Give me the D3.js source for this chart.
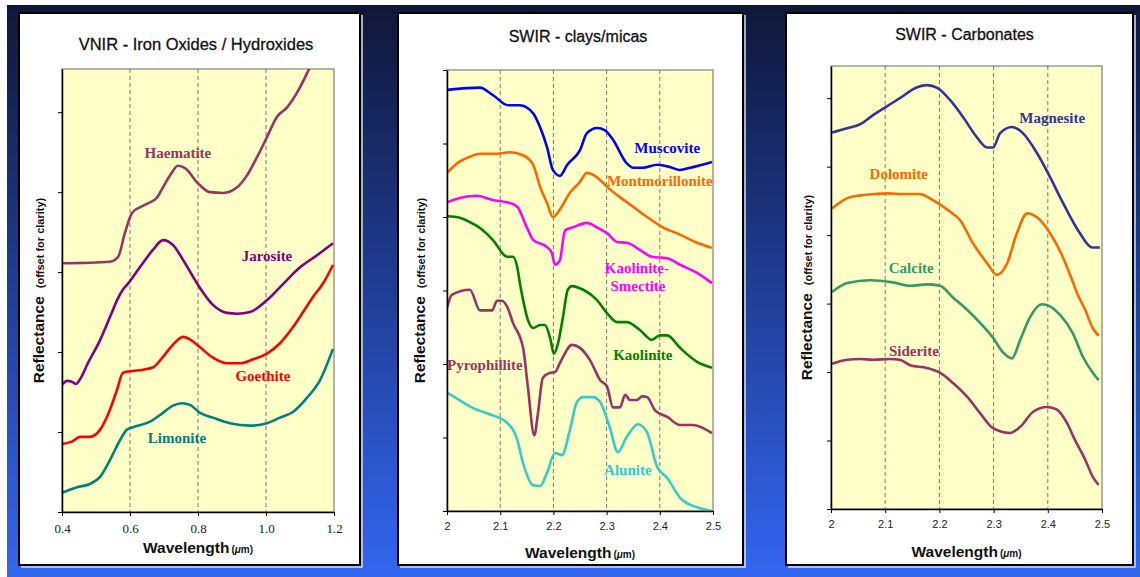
<!DOCTYPE html>
<html>
<head>
<meta charset="utf-8">
<script src="https://cdn.jsdelivr.net/npm/d3@7"></script>
<style>
  body { margin: 0; background: #fff; }
  svg { display: block; }
</style>
</head>
<body>
<div id="chart"></div>
<script>
// ---- data: [wavelength (um), reflectance (offset)] ----
const haematite = [[0.400,0.311],[0.541,0.313],[0.565,0.319],[0.585,0.349],[0.606,0.374],[0.629,0.381],[0.653,0.386],[0.679,0.393],[0.697,0.406],[0.718,0.421],[0.741,0.433],[0.762,0.430],[0.800,0.411],[0.835,0.400],[0.874,0.399],[0.915,0.406],[0.944,0.421],[0.974,0.444],[1.003,0.469],[1.032,0.494],[1.062,0.506],[1.100,0.531],[1.129,0.556],[1.159,0.581]];
const jarosite = [[0.400,0.159],[0.415,0.164],[0.429,0.163],[0.441,0.160],[0.453,0.166],[0.476,0.186],[0.512,0.215],[0.550,0.253],[0.562,0.265],[0.579,0.278],[0.591,0.284],[0.629,0.306],[0.668,0.328],[0.697,0.340],[0.726,0.334],[0.762,0.311],[0.800,0.284],[0.844,0.259],[0.885,0.249],[0.915,0.248],[0.953,0.250],[1.003,0.265],[1.050,0.285],[1.100,0.306],[1.150,0.321],[1.197,0.336]];
const goethite = [[0.400,0.085],[0.429,0.088],[0.453,0.094],[0.482,0.094],[0.512,0.103],[0.541,0.128],[0.562,0.153],[0.579,0.174],[0.600,0.176],[0.638,0.178],[0.668,0.181],[0.697,0.194],[0.726,0.209],[0.756,0.219],[0.776,0.216],[0.806,0.206],[0.844,0.193],[0.885,0.186],[0.924,0.186],[0.962,0.191],[1.003,0.198],[1.041,0.211],[1.079,0.231],[1.109,0.250],[1.138,0.269],[1.168,0.286],[1.197,0.309]];
const limonite = [[0.400,0.024],[0.444,0.031],[0.482,0.035],[0.512,0.044],[0.541,0.065],[0.571,0.090],[0.591,0.103],[0.609,0.106],[0.659,0.113],[0.697,0.124],[0.726,0.133],[0.753,0.136],[0.776,0.134],[0.806,0.124],[0.844,0.118],[0.894,0.111],[0.953,0.108],[1.003,0.111],[1.041,0.118],[1.079,0.125],[1.121,0.143],[1.159,0.165],[1.197,0.204]];

const muscovite = [[2.000,0.573],[2.062,0.576],[2.086,0.566],[2.115,0.552],[2.137,0.552],[2.162,0.541],[2.175,0.522],[2.188,0.495],[2.199,0.464],[2.212,0.456],[2.226,0.471],[2.250,0.491],[2.263,0.514],[2.282,0.521],[2.297,0.518],[2.312,0.505],[2.338,0.473],[2.350,0.467],[2.368,0.467],[2.395,0.471],[2.419,0.468],[2.438,0.464],[2.457,0.467],[2.498,0.475]];
const montmorillonite = [[2.000,0.460],[2.019,0.473],[2.043,0.482],[2.062,0.486],[2.094,0.486],[2.118,0.488],[2.143,0.484],[2.162,0.471],[2.175,0.441],[2.188,0.419],[2.199,0.400],[2.212,0.410],[2.231,0.433],[2.250,0.448],[2.263,0.460],[2.282,0.454],[2.301,0.441],[2.325,0.427],[2.350,0.414],[2.376,0.400],[2.406,0.386],[2.438,0.376],[2.470,0.365],[2.498,0.358]];
const kaolSmectite = [[2.000,0.420],[2.024,0.426],[2.056,0.429],[2.086,0.423],[2.113,0.420],[2.132,0.414],[2.150,0.386],[2.162,0.369],[2.188,0.359],[2.197,0.351],[2.203,0.335],[2.212,0.341],[2.222,0.382],[2.237,0.386],[2.263,0.392],[2.282,0.386],[2.301,0.378],[2.320,0.366],[2.338,0.365],[2.363,0.355],[2.385,0.346],[2.414,0.344],[2.438,0.335],[2.470,0.324],[2.498,0.310]];
const kaolinite = [[2.000,0.401],[2.024,0.399],[2.043,0.393],[2.062,0.385],[2.086,0.369],[2.113,0.346],[2.124,0.346],[2.132,0.332],[2.137,0.310],[2.143,0.287],[2.152,0.260],[2.162,0.249],[2.175,0.253],[2.184,0.253],[2.194,0.235],[2.201,0.214],[2.209,0.229],[2.218,0.264],[2.227,0.301],[2.235,0.306],[2.256,0.301],[2.282,0.287],[2.301,0.269],[2.320,0.257],[2.338,0.257],[2.363,0.246],[2.385,0.233],[2.400,0.239],[2.414,0.239],[2.438,0.222],[2.470,0.203],[2.498,0.195]];
const pyrophillite = [[2.000,0.276],[2.009,0.294],[2.043,0.301],[2.062,0.273],[2.085,0.273],[2.094,0.286],[2.103,0.286],[2.113,0.278],[2.124,0.256],[2.143,0.222],[2.152,0.169],[2.164,0.103],[2.171,0.133],[2.180,0.181],[2.194,0.188],[2.203,0.189],[2.212,0.201],[2.235,0.226],[2.250,0.222],[2.269,0.205],[2.288,0.178],[2.301,0.169],[2.312,0.141],[2.325,0.141],[2.335,0.158],[2.344,0.151],[2.357,0.151],[2.367,0.156],[2.376,0.155],[2.391,0.137],[2.414,0.128],[2.438,0.117],[2.462,0.117],[2.498,0.106]];
const alunite = [[2.000,0.161],[2.021,0.152],[2.049,0.140],[2.075,0.133],[2.113,0.120],[2.132,0.097],[2.143,0.065],[2.162,0.035],[2.175,0.034],[2.188,0.052],[2.203,0.079],[2.216,0.076],[2.231,0.110],[2.244,0.148],[2.256,0.155],[2.274,0.155],[2.288,0.148],[2.306,0.114],[2.321,0.080],[2.338,0.101],[2.359,0.118],[2.376,0.107],[2.395,0.060],[2.414,0.045],[2.438,0.018],[2.470,0.005],[2.498,0.000]];

const magnesite = [[2.002,0.550],[2.030,0.556],[2.054,0.562],[2.077,0.575],[2.103,0.588],[2.127,0.600],[2.159,0.616],[2.177,0.619],[2.196,0.615],[2.220,0.597],[2.244,0.572],[2.269,0.543],[2.288,0.528],[2.299,0.528],[2.312,0.549],[2.334,0.558],[2.354,0.549],[2.380,0.520],[2.404,0.485],[2.428,0.447],[2.459,0.403],[2.482,0.382],[2.496,0.382]];
const dolomite = [[2.002,0.439],[2.030,0.454],[2.054,0.458],[2.081,0.460],[2.105,0.461],[2.133,0.460],[2.164,0.460],[2.188,0.451],[2.220,0.434],[2.238,0.422],[2.262,0.388],[2.288,0.359],[2.306,0.342],[2.325,0.359],[2.343,0.403],[2.362,0.432],[2.380,0.426],[2.404,0.403],[2.426,0.371],[2.445,0.334],[2.454,0.315],[2.469,0.291],[2.483,0.264],[2.494,0.253]];
const calcite = [[2.002,0.317],[2.030,0.330],[2.072,0.334],[2.114,0.331],[2.146,0.326],[2.177,0.328],[2.201,0.326],[2.225,0.309],[2.251,0.291],[2.275,0.272],[2.299,0.250],[2.317,0.229],[2.334,0.220],[2.349,0.247],[2.367,0.280],[2.389,0.299],[2.404,0.296],[2.423,0.283],[2.446,0.257],[2.465,0.222],[2.483,0.199],[2.494,0.188]];
const siderite = [[2.002,0.212],[2.030,0.218],[2.054,0.219],[2.077,0.218],[2.109,0.219],[2.127,0.218],[2.146,0.210],[2.177,0.206],[2.201,0.199],[2.225,0.184],[2.251,0.164],[2.275,0.140],[2.299,0.118],[2.330,0.111],[2.349,0.120],[2.373,0.142],[2.399,0.149],[2.417,0.145],[2.435,0.126],[2.450,0.101],[2.469,0.072],[2.483,0.047],[2.494,0.035]];

// tick values
const vnirTicks = [0.4, 0.6, 0.8, 1.0, 1.2];
const vnirGrid = [0.6, 0.8, 1.0];
const swirTicks = [2, 2.1, 2.2, 2.3, 2.4, 2.5];
const swirGrid = [2.1, 2.2, 2.3, 2.4];
const vnirYTicks = [0, 0.1, 0.2, 0.3, 0.4, 0.5];
const swirYTicks = [0, 0.1, 0.2, 0.3, 0.4, 0.5, 0.6];

// panel titles and series names
const titles = ["VNIR - Iron Oxides / Hydroxides", "SWIR - clays/micas", "SWIR - Carbonates"];

// label anchors [name, wavelength, reflectance]
const vnirLabels = [["Haematite",0.741,0.449],["Jarosite",1.003,0.321],["Goethite",0.991,0.170],["Limonite",0.738,0.093]];
const clayLabels = [["Muscovite",2.414,0.494],["Montmorillonite",2.400,0.450],["Kaolinite-",2.357,0.331],["Smectite",2.359,0.306],["Kaolinite",2.368,0.212],["Pyrophillite",2.071,0.199],["Alunite",2.340,0.056]];
const carbLabels = [["Magnesite",2.408,0.572],["Dolomite",2.125,0.489],["Calcite",2.148,0.352],["Siderite",2.153,0.231]];

const colors = {
    Haematite: "#993366", Jarosite: "#800080", Goethite: "#ff0000", Limonite: "#008080",
    Muscovite: "#0000ff", Montmorillonite: "#ff6600", "Kaolinite-": "#ff00ff", Smectite: "#ff00ff",
    Kaolinite: "#008000", Pyrophillite: "#993366", Alunite: "#33cccc",
    Magnesite: "#333399", Dolomite: "#ff6600", Calcite: "#339966", Siderite: "#993366"
};

const panels = [
    {
        title: titles[0], titleY: 50, titleSize: 16.5,
        frame: [19, 13, 341, 552],
        plot: {left: 62, top: 69, right: 334, bottom: 512},
        xDomain: [0.4, 1.2], yDomain: [0, 0.554],
        xTicks: vnirTicks, grid: vnirGrid, yTicks: vnirYTicks,
        tickFont: "'Liberation Serif','Times New Roman',serif", tickSize: 13, fmt: d3.format(".1f"),
        series: [["Haematite", haematite], ["Jarosite", jarosite], ["Goethite", goethite], ["Limonite", limonite]],
        labels: vnirLabels, yLabelX: 38, xLabelY: 553
    },
    {
        title: titles[1], titleY: 42, titleSize: 16,
        frame: [398, 13, 345, 552],
        plot: {left: 447, top: 70, right: 713, bottom: 511},
        xDomain: [2, 2.5], yDomain: [0, 0.6],
        xTicks: swirTicks, grid: swirGrid, yTicks: swirYTicks,
        tickFont: "'Liberation Sans',Arial,sans-serif", tickSize: 11, fmt: d => d3.format("")(d),
        series: [["Muscovite", muscovite], ["Montmorillonite", montmorillonite], ["Kaolinite-", kaolSmectite],
                 ["Kaolinite", kaolinite], ["Pyrophillite", pyrophillite], ["Alunite", alunite]],
        labels: clayLabels, yLabelX: 419, xLabelY: 558
    },
    {
        title: titles[2], titleY: 40, titleSize: 16,
        frame: [786, 13, 347, 552],
        plot: {left: 831, top: 66, right: 1102, bottom: 509},
        xDomain: [2, 2.5], yDomain: [0, 0.647],
        xTicks: swirTicks, grid: swirGrid, yTicks: swirYTicks,
        tickFont: "'Liberation Sans',Arial,sans-serif", tickSize: 11, fmt: d => d3.format("")(d),
        series: [["Magnesite", magnesite], ["Dolomite", dolomite], ["Calcite", calcite], ["Siderite", siderite]],
        labels: carbLabels, yLabelX: 806, xLabelY: 557
    }
];

const width = 1140, height = 577;
const sans = "'Liberation Sans',Arial,sans-serif";
const serif = "'Liberation Serif','Times New Roman',serif";

const svg = d3.select("#chart").append("svg")
    .attr("width", width)
    .attr("height", height);

const defs = svg.append("defs");
const grad = defs.append("linearGradient")
    .attr("id", "bg").attr("x1", 0).attr("y1", 0).attr("x2", 0).attr("y2", 1);
grad.append("stop").attr("offset", "0%").attr("stop-color", "#0f1738");
grad.append("stop").attr("offset", "45%").attr("stop-color", "#1f3a8c");
grad.append("stop").attr("offset", "100%").attr("stop-color", "#3366f0");

svg.append("rect")
    .attr("x", 7).attr("y", 5)
    .attr("width", width - 7).attr("height", height - 5)
    .attr("fill", "url(#bg)");

function DrawPanel(p, i) {
    const [fx, fy, fw, fh] = p.frame;
    const g = svg.append("g");

    // frame
    g.append("path")
        .attr("d", `M${fx + fw + 2},${fy + 2}V${fy + fh + 2}H${fx + 2}`)
        .attr("fill", "none").attr("stroke", "#d8def0").attr("stroke-width", 1.5);
    g.append("rect")
        .attr("x", fx).attr("y", fy).attr("width", fw).attr("height", fh)
        .attr("fill", "#fff").attr("stroke", "#000").attr("stroke-width", 2);

    // title
    g.append("text")
        .attr("x", (p.plot.left + p.plot.right) / 2 - 2)
        .attr("y", p.titleY)
        .attr("text-anchor", "middle")
        .attr("font-family", sans)
        .attr("font-size", p.titleSize)
        .attr("fill", "#111")
        .attr("stroke", "#111").attr("stroke-width", 0.3)
        .text(p.title);

    const x = d3.scaleLinear().domain(p.xDomain).range([p.plot.left, p.plot.right]);
    const y = d3.scaleLinear().domain(p.yDomain).range([p.plot.bottom, p.plot.top]);

    // plot background
    g.append("rect")
        .attr("x", p.plot.left).attr("y", p.plot.top)
        .attr("width", p.plot.right - p.plot.left)
        .attr("height", p.plot.bottom - p.plot.top)
        .attr("fill", "#ffffc8")
        .attr("stroke", "#999").attr("stroke-width", 1.5);

    // dashed gridlines
    g.append("g").selectAll("line")
        .data(p.grid)
        .enter().append("line")
        .attr("x1", d => x(d)).attr("x2", d => x(d))
        .attr("y1", p.plot.top).attr("y2", p.plot.bottom)
        .attr("stroke", "#777").attr("stroke-width", 1)
        .attr("stroke-dasharray", "4,3");

    // clip
    defs.append("clipPath").attr("id", "clip" + i)
        .append("rect")
        .attr("x", p.plot.left).attr("y", p.plot.top)
        .attr("width", p.plot.right - p.plot.left)
        .attr("height", p.plot.bottom - p.plot.top);

    const line = d3.line()
        .x(d => x(d[0]))
        .y(d => y(d[1]))
        .curve(d3.curveMonotoneX);

    g.append("g").attr("clip-path", `url(#clip${i})`)
        .selectAll("path")
        .data(p.series)
        .enter().append("path")
        .attr("d", d => line(d[1]))
        .attr("fill", "none")
        .attr("stroke", d => colors[d[0]])
        .attr("stroke-width", 2.6)
        .attr("stroke-linejoin", "round");

    // series labels
    g.append("g").selectAll("text")
        .data(p.labels)
        .enter().append("text")
        .attr("x", d => x(d[1]))
        .attr("y", d => y(d[2]))
        .attr("dy", "0.35em")
        .attr("text-anchor", "middle")
        .attr("font-family", serif)
        .attr("font-weight", "bold")
        .attr("font-size", 15)
        .attr("fill", d => colors[d[0]])
        .text(d => d[0]);

    // axes
    const xAxis = g.append("g")
        .attr("transform", `translate(0,${p.plot.bottom})`)
        .call(d3.axisBottom(x).tickValues(p.xTicks).tickSize(4).tickSizeOuter(0).tickFormat(p.fmt));
    xAxis.select(".domain").attr("stroke", "#000").attr("stroke-width", 1.5);
    xAxis.selectAll(".tick line").attr("stroke", "#000");
    xAxis.selectAll("text")
        .attr("font-family", p.tickFont)
        .attr("font-size", p.tickSize)
        .attr("fill", "#222")
        .attr("dy", "1.1em");

    const yAxis = g.append("g")
        .attr("transform", `translate(${p.plot.left},0)`)
        .call(d3.axisLeft(y).tickValues(p.yTicks).tickSize(4).tickSizeOuter(0).tickFormat(""));
    yAxis.select(".domain").attr("stroke", "#000").attr("stroke-width", 1.5);
    yAxis.selectAll(".tick line").attr("stroke", "#000");

    // y label
    const cy = (p.plot.top + p.plot.bottom) / 2;
    const yl = g.append("text")
        .attr("transform", `translate(${p.yLabelX + 6},${cy}) rotate(-90)`)
        .attr("text-anchor", "middle")
        .attr("font-family", sans)
        .attr("font-weight", "bold")
        .attr("fill", "#111");
    yl.append("tspan").attr("font-size", 15.5).text("Reflectance");
    yl.append("tspan").attr("font-size", 11).attr("dx", 8).text("(offset for clarity)");

    // x label
    const xl = g.append("text")
        .attr("x", (p.plot.left + p.plot.right) / 2)
        .attr("y", p.xLabelY)
        .attr("text-anchor", "middle")
        .attr("font-family", sans)
        .attr("font-weight", "bold")
        .attr("fill", "#111");
    xl.append("tspan").attr("font-size", 15.5).text("Wavelength");
    const unit = xl.append("tspan").attr("font-size", 10).attr("dx", 2);
    unit.append("tspan").text("(");
    unit.append("tspan").attr("font-style", "italic").text("μ");
    unit.append("tspan").text("m)");
}

panels.forEach((p, i) => DrawPanel(p, i));
</script>
</body>
</html>
